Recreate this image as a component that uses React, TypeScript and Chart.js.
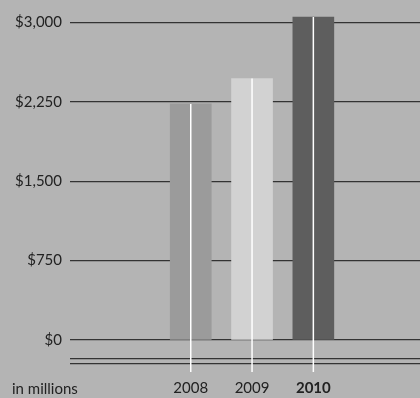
import React, { useEffect, useRef } from "react";
import { Chart, registerables } from "chart.js";

Chart.register(...registerables);

const years = [2008, 2009, 2010];
const values = [2230, 2470, 3050];
const barColors = ["#9b9b9b", "#d2d2d2", "#5e5e5e"];
const yTicks = [-227, -180, 0, 750, 1500, 2250, 3000];
const FONT = "Lato, 'Open Sans', sans-serif";

const whiteLines = {
  id: "whiteLines",
  afterDatasetsDraw(chart: any) {
    const { ctx, chartArea } = chart;
    const meta = chart.getDatasetMeta(0);
    ctx.save();
    ctx.strokeStyle = "#ffffff";
    ctx.lineWidth = 1.5;
    meta.data.forEach((el: any) => {
      ctx.beginPath();
      ctx.moveTo(el.x, el.y);
      ctx.lineTo(el.x, chartArea.bottom - 2);
      ctx.stroke();
    });
    ctx.restore();
  },
};

export default function App() {
  const ref = useRef<HTMLCanvasElement>(null);
  useEffect(() => {
    if (!ref.current) return;
    const chart = new Chart(ref.current, {
      type: "bar",
      data: {
        datasets: [
          {
            data: years.map((y, i) => ({ x: y, y: values[i] })),
            backgroundColor: barColors,
            borderWidth: 0,
            barThickness: 41,
          },
        ],
      },
      options: {
        animation: false,
        responsive: true,
        maintainAspectRatio: false,
        layout: { padding: 0 },
        plugins: { legend: { display: false }, tooltip: { enabled: false } },
        scales: {
          x: {
            type: "linear",
            offset: false,
            min: 2006.03,
            max: 2011.74,
            grid: { display: false, drawTicks: false },
            border: { display: false },
            afterBuildTicks: (scale: any) => {
              scale.ticks = years.map((v) => ({ value: v }));
            },
            afterFit: (scale: any) => {
              scale.height = 24;
              scale.paddingLeft = 0;
              scale.paddingRight = 0;
            },
            ticks: {
              padding: 5,
              autoSkip: false,
              maxRotation: 0,
              color: "#222",
              callback: (v: any) => String(v),
              font: (ctx: any) => ({
                family: FONT,
                size: 15,
                weight: ctx.tick && ctx.tick.value === 2010 ? "bold" : "normal",
              }),
            },
          },
          y: {
            min: -321,
            max: 3211,
            grid: { color: "#333333", lineWidth: 1.3, drawTicks: false },
            border: { display: false },
            afterBuildTicks: (scale: any) => {
              scale.ticks = yTicks.map((v) => ({ value: v }));
            },
            afterFit: (scale: any) => {
              scale.width = 70;
              scale.paddingTop = 0;
              scale.paddingBottom = 0;
            },
            ticks: {
              padding: 8,
              color: "#222",
              font: { family: FONT, size: 15 },
              callback: (v: any) =>
                v < 0 ? "" : "$" + Number(v).toLocaleString("en-US"),
            },
          },
        },
      },
      plugins: [whiteLines],
    });
    return () => chart.destroy();
  }, []);
  return (
    <div
      style={{
        position: "absolute",
        left: 0,
        top: 0,
        width: 420,
        height: 398,
        background: "#b4b4b4",
      }}
    >
      <canvas ref={ref} />
      <div
        style={{
          position: "absolute",
          left: 12,
          top: 379,
          fontFamily: FONT,
          fontSize: 15,
          lineHeight: "18px",
          color: "#222",
        }}
      >
        in millions
      </div>
    </div>
  );
}
